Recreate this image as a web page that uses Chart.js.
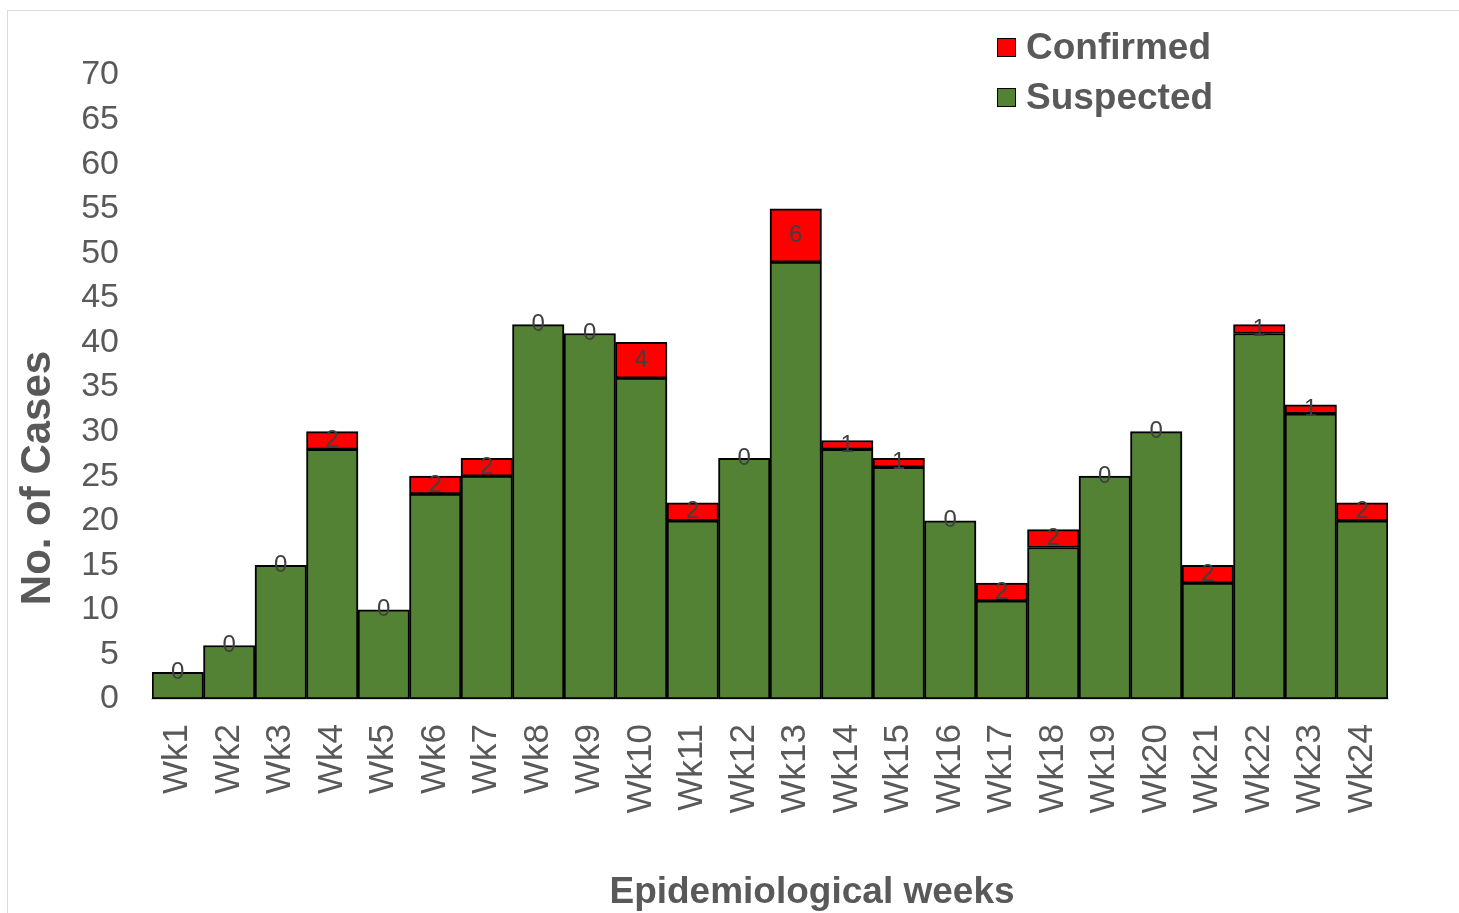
<!DOCTYPE html>
<html>
<head>
<meta charset="utf-8">
<script src="https://cdn.jsdelivr.net/npm/chart.js@4.4.1/dist/chart.umd.min.js"></script>
<style>
  html, body { margin: 0; padding: 0; background: #fff; overflow: hidden; }
  #wrap { position: relative; width: 1459px; height: 913px; }
  #frame { position: absolute; left: 7px; top: 10px; width: 1500px; height: 1000px; border: 1px solid #d9d9d9; box-sizing: border-box; }
  #legend { position: absolute; left: 997px; top: 22px; font-family: "Liberation Sans", Arial, sans-serif; font-weight: bold; font-size: 37px; color: #595959; }
  .item { display: flex; align-items: center; height: 50px; }
  .box { width: 17px; height: 17px; border: 1px solid #000; margin-right: 10px; }
</style>
</head>
<body>
<div id="wrap">
  <div id="frame"></div>
  <canvas id="chart" width="1459" height="913"></canvas>
  <div id="legend">
    <div class="item"><span class="box" style="background:#ff0000"></span>Confirmed</div>
    <div class="item"><span class="box" style="background:#548235"></span>Suspected</div>
  </div>
</div>
<script>
// semanas epidemiologicas
const weeks = ['Wk1','Wk2','Wk3','Wk4','Wk5','Wk6','Wk7','Wk8','Wk9','Wk10','Wk11','Wk12',
  'Wk13','Wk14','Wk15','Wk16','Wk17','Wk18','Wk19','Wk20','Wk21','Wk22','Wk23','Wk24'];
const suspected = [3, 6, 15, 28, 10, 23, 25, 42, 41, 36, 20, 27, 49, 28, 26, 20, 11, 17, 25, 30, 13, 41, 32, 20];
const confirmed = [0, 0, 0, 2, 0, 2, 2, 0, 0, 4, 2, 0, 6, 1, 1, 0, 2, 2, 0, 0, 2, 1, 1, 2];
const yMax = 70;
const yStep = 5;

const fontFamily = '"Liberation Sans", Arial, sans-serif';

// numeros dos confirmados no meio do bloco vermelho
const valueLabels = {
  id: 'valueLabels',
  afterDatasetsDraw(chart) {
    const ctx = chart.ctx;
    const meta = chart.getDatasetMeta(1);
    ctx.save();
    ctx.font = '24px ' + fontFamily;
    ctx.fillStyle = '#404040';
    ctx.textAlign = 'center';
    ctx.textBaseline = 'middle';
    meta.data.forEach((bar, i) => {
      ctx.fillText(String(confirmed[i]), bar.x, (bar.y + bar.base) / 2);
    });
    ctx.restore();
  }
};

// titulos dos eixos (posicao como no original)
const axisTitles = {
  id: 'axisTitles',
  afterDraw(chart) {
    const ctx = chart.ctx;
    ctx.save();
    ctx.fillStyle = '#595959';
    ctx.textAlign = 'center';
    ctx.textBaseline = 'middle';
    ctx.font = 'bold 37px ' + fontFamily;
    ctx.fillText('Epidemiological weeks', 812, 893);
    ctx.translate(38, 478);
    ctx.rotate(-Math.PI / 2);
    ctx.font = 'bold 42px ' + fontFamily;
    ctx.fillText('No. of Cases', 0, 0);
    ctx.restore();
  }
};

const ctx = document.getElementById('chart');

new Chart(ctx, {
  type: 'bar',
  data: {
    labels: weeks,
    datasets: [{
      label: 'Suspected',
      data: suspected,
      backgroundColor: '#548235',
      borderColor: '#000',
      borderWidth: 2,
      borderSkipped: false
    }, {
      label: 'Confirmed',
      data: confirmed,
      backgroundColor: '#ff0000',
      borderColor: '#000',
      borderWidth: 2,
      borderSkipped: false
    }]
  },
  options: {
    responsive: false,
    animation: false,
    barPercentage: 1,
    categoryPercentage: 1,
    layout: { padding: { left: 10, right: 71, top: 75, bottom: 0 } },
    plugins: {
      legend: { display: false },
      tooltip: { enabled: false }
    },
    scales: {
      x: {
        stacked: true,
        grid: { display: false, drawTicks: false },
        border: { display: true, color: '#d9d9d9', width: 2 },
        ticks: {
          color: '#595959',
          font: { family: fontFamily, size: 35 },
          minRotation: 90,
          maxRotation: 90,
          padding: 25,
          autoSkip: false
        },
        afterFit(scale) { scale.height = 913 - 699; }
      },
      y: {
        stacked: true,
        min: 0,
        max: yMax,
        grid: { display: false, drawTicks: false },
        border: { display: false },
        ticks: {
          stepSize: yStep,
          color: '#595959',
          font: { family: fontFamily, size: 34 },
          padding: 33
        },
        afterFit(scale) { scale.width = 152 - 10; }
      }
    }
  },
  plugins: [valueLabels, axisTitles]
});
</script>
</body>
</html>
